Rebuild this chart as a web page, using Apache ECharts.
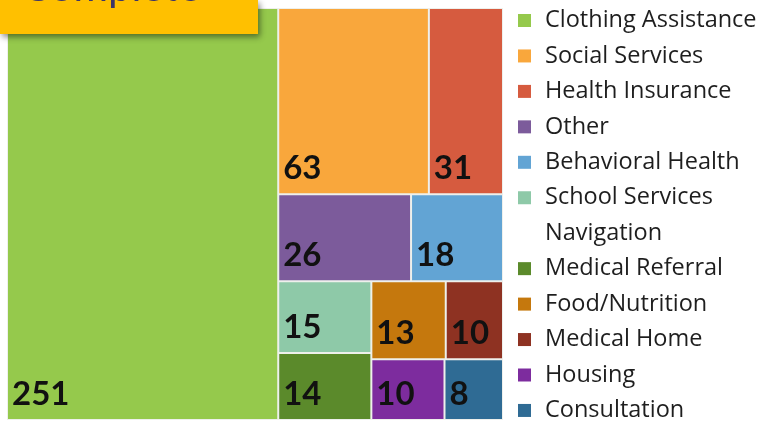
<!DOCTYPE html>
<html>
<head>
    <meta charset="UTF-8">
    <title>Service requests</title>
    <script src="https://cdn.jsdelivr.net/npm/echarts@6/dist/echarts.min.js"></script>
    <style>
        html, body { margin: 0; padding: 0; background: #fff; }
        #chart { width: 763px; height: 422px; }
    </style>
</head>
<body>
<div id="chart"></div>
<script>
    // categories, counts and colours (same order)
    var names = ['Clothing Assistance', 'Social Services', 'Health Insurance', 'Other',
        'Behavioral Health', 'School Services Navigation', 'Medical Referral',
        'Food/Nutrition', 'Medical Home', 'Housing', 'Consultation'];
    var counts = [251, 63, 31, 26, 18, 15, 14, 13, 10, 10, 8];
    var colors = ['#95c94c', '#f9a73c', '#d65b3f', '#7c5b9b', '#62a4d4', '#8ec9a8',
        '#5b8a2b', '#c5780d', '#8e3222', '#7d2c9e', '#2f6b94'];

    // how the tiles are grouped (indexes into the arrays above)
    var grouping = [0, [[1, 2], [[3, 4], [[5, 6], [[7, 8], [9, 10]]]]]];

    function build(node) {
        if (typeof node === 'number') {
            return {
                name: names[node],
                value: counts[node],
                itemStyle: {color: colors[node], borderWidth: 1, borderColor: '#eef0ec'}
            };
        }
        return {name: '', children: node.map(build)};
    }

    var chart = echarts.init(document.getElementById('chart'), null, {renderer: 'canvas'});

    // legend drawn on the right
    var legendItems = [];
    var rowH = 35.45;
    var row = 0;
    names.forEach(function (n, i) {
        var cy = 20.5 + row * rowH;
        legendItems.push({
            type: 'rect',
            shape: {x: 518, y: cy - 6.5, width: 13, height: 13},
            style: {fill: colors[i]}
        });
        legendItems.push({
            type: 'text',
            style: {
                text: n, x: 545, y: cy - rowH / 2,
                width: 220, overflow: 'break', lineHeight: rowH,
                verticalAlign: 'top', fill: '#1e1e1e',
                font: '23.5px "Open Sans"'
            }
        });
        row += n === 'School Services Navigation' ? 2 : 1;
    });

    var option = {
        backgroundColor: '#fff',
        animation: false,
        graphic: legendItems.concat([
            {
                type: 'rect', z: 100,
                shape: {x: 0, y: 0, width: 258, height: 34},
                style: {
                    fill: '#ffc000', shadowBlur: 6, shadowOffsetX: 2, shadowOffsetY: 3,
                    shadowColor: 'rgba(0,0,0,0.45)'
                }
            },
            {
                type: 'text', z: 101,
                style: {
                    text: 'Complete', x: 22, y: -13, verticalAlign: 'middle',
                    fill: '#3d3568', font: '42px Lato'
                }
            }
        ]),
        series: [{
            type: 'treemap',
            left: 7, top: 8, width: 496, height: 412,
            roam: false,
            nodeClick: false,
            sort: false,
            squareRatio: 0.8,
            breadcrumb: {show: false},
            itemStyle: {borderWidth: 0, gapWidth: 0, borderColor: '#eef0ec'},
            label: {
                show: true,
                position: 'insideBottomLeft',
                formatter: function (p) { return p.value; },
                color: '#111',
                fontFamily: 'Lato',
                fontWeight: 'bold',
                fontSize: 33,
                padding: [0, 0, 8, 4]
            },
            data: grouping.map(build)
        }]
    };
    chart.setOption(option);
</script>
</body>
</html>
